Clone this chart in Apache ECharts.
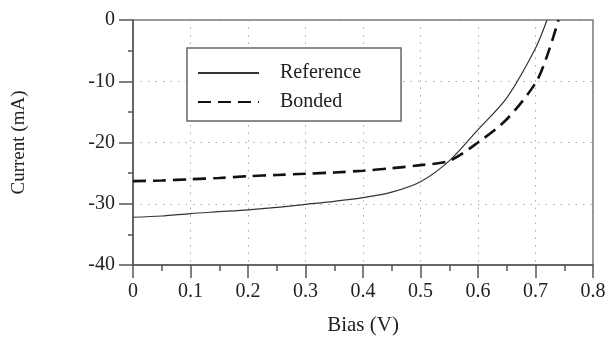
<!DOCTYPE html>
<html>
<head>
<meta charset="utf-8">
<script src="https://cdn.jsdelivr.net/npm/echarts@6/dist/echarts.min.js"></script>
<style>
  html, body { margin: 0; padding: 0; background: #fff; }
  #chart { width: 607px; height: 338px; }
</style>
</head>
<body>
<div id="chart"></div>
<script>
// values
const biasReference = [0, 0.05, 0.1, 0.15, 0.2, 0.25, 0.3, 0.35, 0.4, 0.45, 0.5, 0.55, 0.6, 0.65, 0.7, 0.72];
const currentReference = [-32.2, -32.0, -31.6, -31.3, -31.0, -30.6, -30.1, -29.6, -29.0, -28.1, -26.4, -23.0, -17.9, -12.7, -4.6, 0];

const biasBonded = [0, 0.05, 0.1, 0.15, 0.2, 0.25, 0.3, 0.35, 0.4, 0.45, 0.5, 0.55, 0.6, 0.65, 0.7, 0.72, 0.74];
const currentBonded = [-26.3, -26.2, -26.0, -25.8, -25.5, -25.3, -25.1, -24.9, -24.6, -24.2, -23.7, -23.0, -20.0, -16.2, -10.3, -5.9, 0];

const xTicks = [0, 0.1, 0.2, 0.3, 0.4, 0.5, 0.6, 0.7, 0.8];
const yTicks = [-40, -30, -20, -10, 0];

const FONT = "'Liberation Serif', 'DejaVu Serif', serif";
const textColor = "#222";
const axisColor = "#555";

const pairs = (xs, ys) => xs.map((x, i) => [x, ys[i]]);

const chart = echarts.init(document.getElementById("chart"));
chart.setOption({
  animation: false,
  backgroundColor: "#fff",
  grid: {
    left: 133, right: 14, top: 20, bottom: 73,
    outerBoundsMode: "none",
    show: true, borderColor: "#777", borderWidth: 1.5, backgroundColor: "transparent",
  },
  legend: {
    orient: "vertical",
    left: 187, top: 48,
    padding: [14, 40, 8, 10],
    itemWidth: 61, itemHeight: 22, itemGap: 7,
    backgroundColor: "#fff",
    borderColor: "#666", borderWidth: 1.5,
    itemStyle: { opacity: 0 },
    textStyle: { fontFamily: FONT, fontSize: 20, color: textColor, lineHeight: 22, padding: [0, 0, 0, 16] },
    data: ["Reference", "Bonded"],
  },
  xAxis: {
    type: "value",
    min: 0, max: 0.8, interval: 0.1,
    name: "Bias (V)", nameLocation: "middle", nameGap: 50,
    nameTextStyle: { fontFamily: FONT, fontSize: 21, color: textColor },
    axisLine: { onZero: false, lineStyle: { color: axisColor, width: 1.5 } },
    axisTick: { length: 13, lineStyle: { color: axisColor, width: 1.5 } },
    minorTick: { show: true, splitNumber: 2, length: 6, lineStyle: { color: axisColor, width: 1.5 } },
    axisLabel: {
      margin: 17, fontFamily: FONT, fontSize: 20, color: textColor,
      formatter: (v) => (xTicks.includes(+v.toFixed(1)) ? (v === 0 ? "0" : v.toFixed(1)) : ""),
    },
    splitLine: { show: true, lineStyle: { color: "#aaa", type: [1.5, 6], width: 1 } },
  },
  yAxis: {
    type: "value",
    min: -40, max: 0, interval: 10,
    name: "Current (mA)", nameLocation: "middle", nameGap: 104, nameRotate: 90,
    nameTextStyle: { fontFamily: FONT, fontSize: 19, color: textColor },
    axisLine: { onZero: false, lineStyle: { color: axisColor, width: 1.5 } },
    axisTick: { length: 14, lineStyle: { color: axisColor, width: 1.5 } },
    minorTick: { show: true, splitNumber: 2, length: 5, lineStyle: { color: axisColor, width: 1.5 } },
    axisLabel: {
      margin: 18, fontFamily: FONT, fontSize: 20, color: textColor,
      formatter: (v) => (yTicks.includes(v) ? String(v) : ""),
    },
    splitLine: { show: true, lineStyle: { color: "#aaa", type: [1.5, 6], width: 1 } },
  },
  series: [
    {
      name: "Reference",
      type: "line",
      data: pairs(biasReference, currentReference),
      symbol: "none",
      smooth: 0.3,
      lineStyle: { color: "#333", width: 1.2 },
      itemStyle: { color: "#333" },
    },
    {
      name: "Bonded",
      type: "line",
      data: pairs(biasBonded, currentBonded),
      symbol: "none",
      smooth: 0.3,
      lineStyle: { color: "#111", width: 2.6, type: [13, 7] },
      itemStyle: { color: "#111" },
    },
  ],
});
</script>
</body>
</html>
